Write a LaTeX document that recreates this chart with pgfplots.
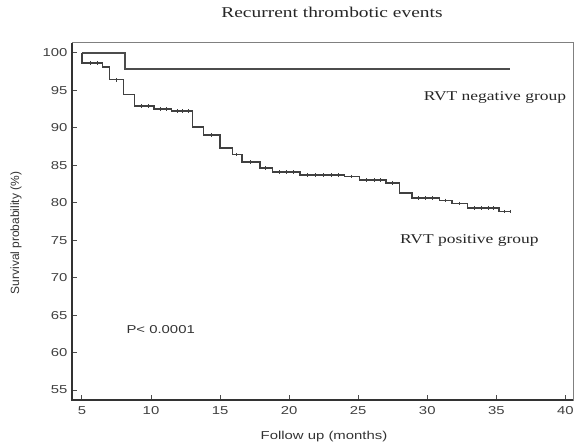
\documentclass[border=0pt]{standalone}
\usepackage{fontspec}
\setmainfont{Liberation Serif}[FakeStretch=1.3]
\newfontfamily\widesans{Liberation Sans}[FakeStretch=1.3]
\newfontfamily\plainsans{Liberation Sans}
\usepackage{pgfplots}
\pgfplotsset{compat=1.18}

\begin{document}
\begin{tikzpicture}
\useasboundingbox (0,0) rectangle (574bp,445bp);
\begin{axis}[
  at={(72bp,45bp)}, anchor=south west,
  scale only axis,
  width=501bp, height=357bp,
  xmin=4.28, xmax=40.55,
  ymin=53.67, ymax=101.3,
  xtick={5,10,...,40},
  ytick={55,60,...,100},
  xtick pos=bottom, ytick pos=left,
  tick align=inside,
  major tick length=5bp,
  tick style={black!70, line width=1bp},
  axis line style={draw=black!50, line width=1bp},
  /pgf/number format/assume math mode=true,
  ticklabel style={font=\widesans\fontsize{11.5}{12}\selectfont, text=black!75},
  xticklabel style={yshift=-3bp},
  yticklabel style={xshift=-1bp},
  clip=false,
]
% RVT negative group
\addplot[const plot, draw=black!70, line width=2.2bp] coordinates {
  (5,100) (8.1,97.8) (36,97.8)
};
% RVT positive group
\addplot[const plot, draw=black!75, line width=1.5bp] coordinates {
  (5,100) (5,98.6) (6.5,98.1) (7.0,96.4) (8.0,94.4) (8.8,92.9)
  (10.2,92.5) (11.5,92.2) (13.0,90.1) (13.8,89.0) (15.0,87.3)
  (15.9,86.4) (16.6,85.4) (17.9,84.6) (18.8,84.1) (20.8,83.7)
  (24.0,83.5) (25.1,83.0) (27.0,82.6) (28.0,81.3) (28.9,80.6)
  (30.9,80.3) (31.8,79.9) (32.9,79.3) (35.2,78.8) (36.0,78.8)
};
% censored observations
\addplot[only marks, mark=|, mark size=1.8bp, mark options={draw=black!75, line width=1bp}] coordinates {
  (5.6,98.6) (6.1,98.6) (7.5,96.4) (9.3,92.9) (9.8,92.9) (10.7,92.5)
  (11.1,92.5) (11.9,92.2) (12.3,92.2) (12.7,92.2) (14.4,89.0) (16.2,86.4)
  (17.2,85.4) (18.3,84.6) (19.3,84.1) (19.8,84.1) (20.3,84.1) (21.3,83.7)
  (21.9,83.7) (22.5,83.7) (23.1,83.7) (23.6,83.7) (24.5,83.5) (25.6,83.0)
  (26.2,83.0) (26.6,83.0) (27.5,82.6) (29.4,80.6) (29.9,80.6) (30.4,80.6)
  (31.3,80.3) (32.3,79.9) (33.4,79.3) (33.9,79.3) (34.4,79.3) (34.8,79.3)
  (35.6,78.8) (36.0,78.8)
};
\draw[black!80, line width=2.2bp] (rel axis cs:0,1) -- (rel axis cs:0,0) -- (rel axis cs:1,0);
\node[font=\fontsize{13.5}{14}\selectfont, text=black!85] at (axis cs:34.9,94.0) {RVT negative group};
\node[font=\fontsize{13.5}{14}\selectfont, text=black!85] at (axis cs:33.05,75.0) {RVT positive group};
\node[font=\widesans\fontsize{11.5}{12}\selectfont, text=black!80] at (axis cs:10.7,63.1) {P< 0.0001};
\end{axis}
\node[font=\fontsize{15}{16}\selectfont, text=black!85] at (332bp,433bp) {Recurrent thrombotic events};
\node[font=\widesans\fontsize{11.5}{12}\selectfont, text=black!80] at (324bp,8.5bp) {Follow up (months)};
\node[font=\plainsans\fontsize{12}{13}\selectfont, text=black!80, rotate=90] at (16bp,212bp) {Survival probability (\%)};
\end{tikzpicture}
\end{document}
